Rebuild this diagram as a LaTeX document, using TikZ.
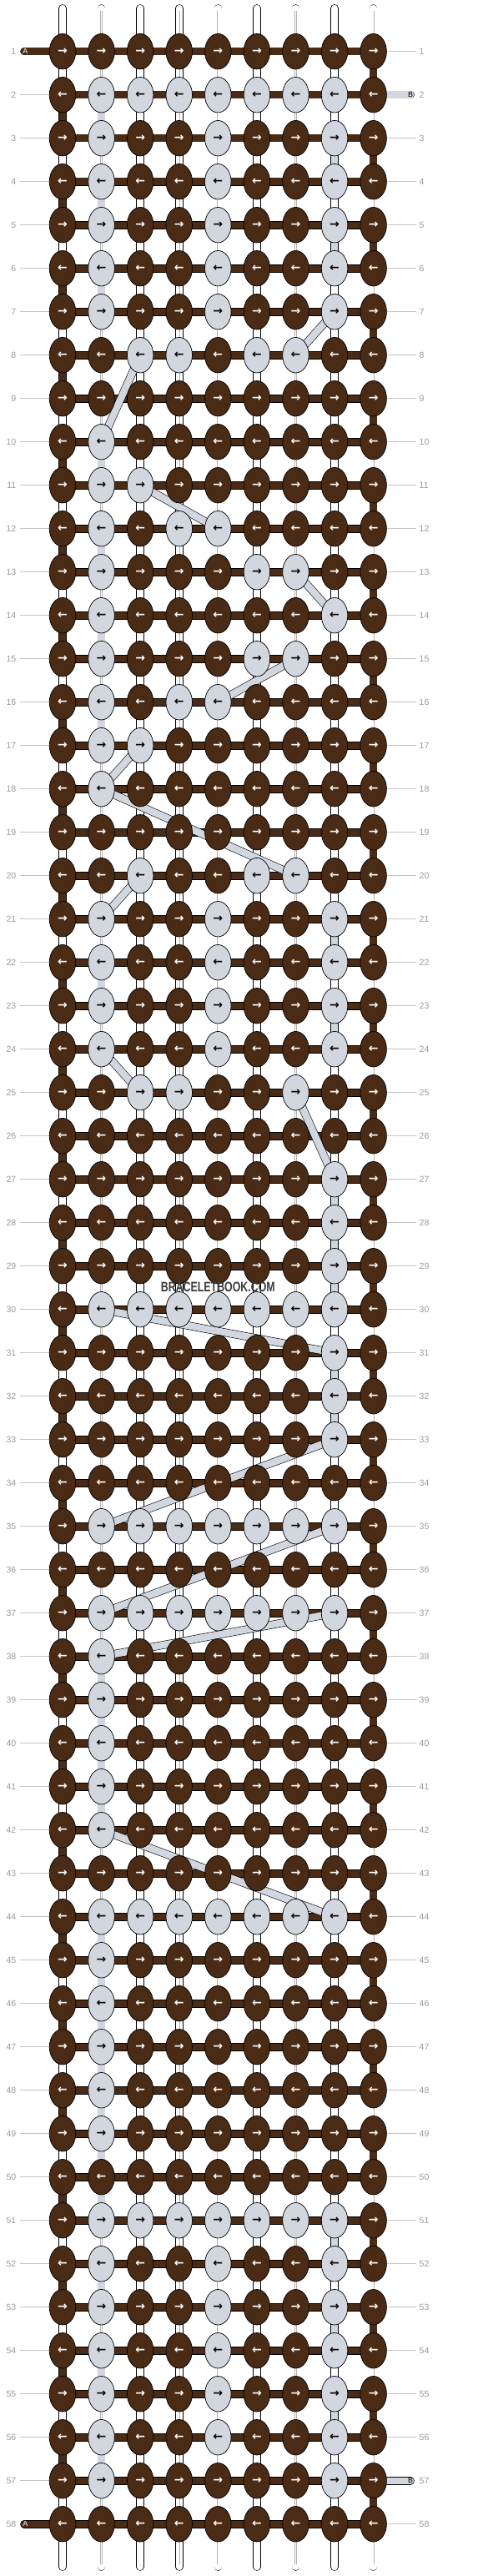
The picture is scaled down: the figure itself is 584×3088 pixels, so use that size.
\documentclass[tikz,border=0pt]{standalone}
\usepackage{fontspec}
\setmainfont{Liberation Sans}
\newfontfamily\arrowfont{DejaVu Sans}
\usetikzlibrary{shapes.geometric}
\definecolor{threadA}{HTML}{4A2B15}
\definecolor{threadB}{HTML}{D2D6DF}
\definecolor{numgray}{HTML}{9A9A9A}
\definecolor{linegray}{HTML}{C4C4C4}
\definecolor{markgray}{HTML}{3A3A3A}

\begin{document}
\begin{tikzpicture}[x=1pt,y=-1pt,
  knot/.style={ellipse,draw=black,line width=0.7pt,minimum width=31.5pt,minimum height=42.5pt,inner sep=0pt,font=\arrowfont\bfseries\fontsize{14}{14}\selectfont},
  warp/.style={draw=black,line width=0.6pt,double=white,double distance=8.4pt},
  warpcore/.style={draw=gray!60,line width=0.35pt,double=white,double distance=1.5pt},
  strandA/.style={draw=black,line width=0.6pt,double=threadA,double distance=8.4pt},
  strandB/.style={draw=black,line width=0.6pt,double=threadB,double distance=8.4pt},
  rowline/.style={draw=linegray,line width=0.8pt},
  rownum/.style={text=numgray,inner sep=0pt,font=\fontsize{10.5}{12}\selectfont},
  endtag/.style={inner sep=0pt,font=\fontsize{9}{10}\selectfont}]
  \fill[white] (0,0) rectangle (584,3088);
  \useasboundingbox (0,0) rectangle (584,3088);

  % knot positions
  \foreach \r in {1,...,58}
    \foreach \c in {1,...,9}
      \coordinate (p-\r-\c) at ({75+(\c-1)*46.58},{61.7+(\r-1)*52});

  % loose ends, top and bottom
  \foreach \c in {1,...,9} {
    \coordinate (top-\c) at ({75+(\c-1)*46.58},10);
    \coordinate (bot-\c) at ({75+(\c-1)*46.58},3077);
    \draw[warp,line cap=round] (top-\c) -- (p-1-\c);
    \draw[warp,line cap=round] (bot-\c) -- (p-58-\c);
    \draw[warpcore,shorten <=3pt] (top-\c) -- (p-1-\c);
    \draw[warpcore,shorten <=3pt] (bot-\c) -- (p-58-\c);
  }

  % base strings between rows
  \foreach \r in {1,...,57} {
    \pgfmathtruncatemacro\s{\r+1}
    \foreach \c in {1,...,9} {
      \draw[warp] (p-\r-\c) -- (p-\s-\c);
      \draw[warpcore] (p-\r-\c) -- (p-\s-\c);
    }
  }

  % string A turning at the edges
  \foreach \r in {2,4,...,56} {
    \pgfmathtruncatemacro\s{\r+1}
    \draw[strandA] (p-\r-1) -- (p-\s-1);
  }
  \foreach \r in {1,3,...,57} {
    \pgfmathtruncatemacro\s{\r+1}
    \draw[strandA] (p-\r-9) -- (p-\s-9);
  }

  % string B going down
  \foreach \r in {2,4,6,10,12,14,16,22,38,39,40,41,44,45,46,47,48,49,50,52,54,56} {
    \pgfmathtruncatemacro\s{\r+1}
    \draw[strandB] (p-\r-2) -- (p-\s-2);
  }
  \foreach \r in {3,5,21,23,27,28,29,31,32,51,53,55} {
    \pgfmathtruncatemacro\s{\r+1}
    \draw[strandB] (p-\r-8) -- (p-\s-8);
  }

  % rows of string A
  \foreach \r in {1,...,58}
    \draw[strandA] (p-\r-1) -- (p-\r-9);

  % A and B ends
  \coordinate (endA-1) at (29,61.7);
  \coordinate (endA-58) at (29,3025.7);
  \coordinate (endB-2) at (492,113.7);
  \coordinate (endB-57) at (492,2973.7);
  \draw[strandA,line cap=round] (endA-1) -- (p-1-1);
  \draw[strandA,line cap=round] (endA-58) -- (p-58-1);
  \draw[strandB,line cap=round] (p-2-9) -- (endB-2);
  \draw[strandB,line cap=round] (p-57-9) -- (endB-57);
  \node[endtag,text=white] (tagA-1) at (30.5,61.7) {A};
  \node[endtag,text=white] (tagA-58) at (30.5,3025.7) {A};
  \node[endtag,text=black] (tagB-2) at (492,113.7) {B};
  \node[endtag,text=black] (tagB-57) at (492,2973.7) {B};

  % string B crossing over
  \foreach \ra/\ca/\rb/\cb in {7/8/8/7,8/3/10/2,11/3/12/5,13/7/14/8,15/7/16/5,
      17/3/18/2,18/2/20/7,20/3/21/2,24/2/25/3,25/7/27/8,30/2/31/8,33/8/35/2,
      35/8/37/2,37/8/38/2,42/2/44/8}
    \draw[strandB] (p-\ra-\ca) -- (p-\rb-\cb);

  % row numbers
  \foreach \r in {1,...,58} {
    \node[rownum,anchor=east] (nl-\r) at (19.5,{61.7+(\r-1)*52}) {\r};
    \node[rownum,anchor=west] (nr-\r) at (502.5,{61.7+(\r-1)*52}) {\r};
  }
  \foreach \r in {2,...,57}
    \draw[rowline,shorten <=4pt] (nl-\r.east) -- (p-\r-1);
  \foreach \r in {1,3,4,...,56,58}
    \draw[rowline,shorten >=3.5pt] (p-\r-9) -- (nr-\r.west);

  % knots, light columns listed per row
  \foreach \r/\lit in {1/{0},2/{2,3,4,5,6,7,8},3/{2,5,8},4/{2,5,8},5/{2,5,8},
      6/{2,5,8},7/{2,5,8},8/{3,4,6,7},9/{0},10/{2},11/{2,3},12/{2,4,5},
      13/{2,6,7},14/{2,8},15/{2,6,7},16/{2,4,5},17/{2,3},18/{2},19/{0},
      20/{3,6,7},21/{2,5,8},22/{2,5,8},23/{2,5,8},24/{2,5,8},25/{3,4,7},
      26/{0},27/{8},28/{8},29/{8},30/{2,3,4,5,6,7,8},31/{8},32/{8},33/{8},
      34/{0},35/{2,3,4,5,6,7,8},36/{0},37/{2,3,4,5,6,7,8},38/{2},39/{2},
      40/{2},41/{2},42/{2},43/{0},44/{2,3,4,5,6,7,8},45/{2},46/{2},47/{2},
      48/{2},49/{2},50/{0},51/{2,3,4,5,6,7,8},52/{2,5,8},53/{2,5,8},
      54/{2,5,8},55/{2,5,8},56/{2,5,8},57/{2,8},58/{0}} {
    \foreach \c in {1,...,9} {
      \gdef\kfill{threadA}\gdef\ktext{white}
      \foreach \l in \lit {\ifnum\l=\c\relax\gdef\kfill{threadB}\gdef\ktext{black}\fi}
      \node[knot,fill=\kfill,text=\ktext] (k-\r-\c) at (p-\r-\c) {\ifodd\r\relax→\else←\fi};
    }
  }

  % site mark
  \node[text=markgray,inner sep=0pt,font=\bfseries\fontsize{16.5}{18}\selectfont]
    (mark) at (261.3,1543.3) {\scalebox{0.75}[1]{BRACELETBOOK.COM}};
\end{tikzpicture}
\end{document}
